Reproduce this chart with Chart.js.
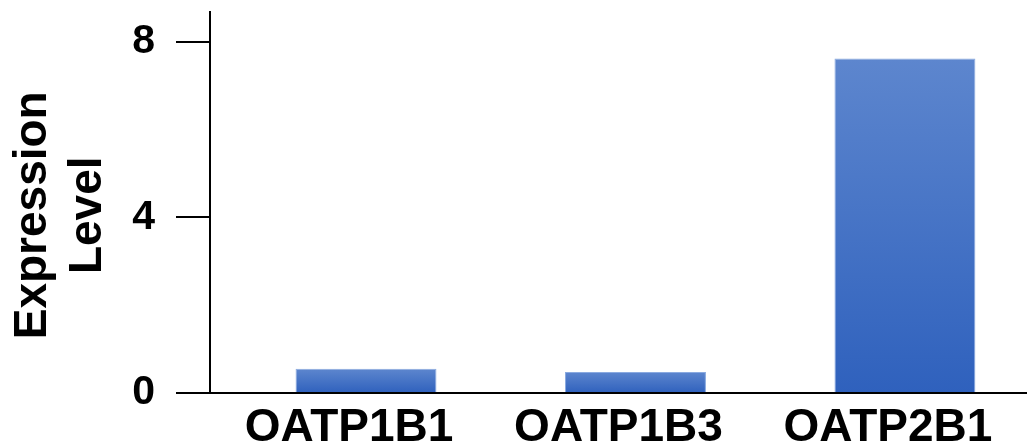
<!DOCTYPE html>
<html>
<head>
<meta charset="utf-8">
<script src="https://cdn.jsdelivr.net/npm/chart.js@4.4.1/dist/chart.umd.min.js"></script>
<style>
  html, body { margin: 0; padding: 0; background: #fff; overflow: hidden; }
  #wrap { width: 1027px; height: 447px; }
</style>
</head>
<body>
<div id="wrap"><canvas id="chart" width="1027" height="447"></canvas></div>
<script>
// values
const categories = ['OATP1B1', 'OATP1B3', 'OATP2B1'];
const expression = [0.55, 0.48, 7.62];
const yTicks = [0, 4, 8];
// trailing spaces nudge the centred title a little down, like the original
const yTitle = ['Expression  ', 'Level  '];

const FONT = '"Liberation Sans", Arial, sans-serif';

// vertical gradient per bar, lighter at the top
function barGradient(c) {
  const chart = c.chart;
  if (!chart.chartArea || !c.raw) return '#4673c6';
  const y = chart.scales.y;
  const top = y.getPixelForValue(c.raw.y);
  const bottom = y.getPixelForValue(0);
  const g = chart.ctx.createLinearGradient(0, top, 0, bottom);
  g.addColorStop(0, '#5d86ce');
  g.addColorStop(1, '#2f61bd');
  return g;
}

const ctx = document.getElementById('chart').getContext('2d');
const chart = new Chart(ctx, {
  type: 'bar',
  data: {
    datasets: [{
      data: categories.map((c, i) => ({ x: i, y: expression[i] })),
      backgroundColor: barGradient,
      borderColor: '#8aaae0',
      borderWidth: 1,
      borderSkipped: 'bottom',
      categoryPercentage: 1,
      barPercentage: 0.523
    }]
  },
  options: {
    responsive: false,
    animation: false,
    layout: { padding: { top: 12, right: 0, bottom: 0, left: 0 } },
    plugins: {
      legend: { display: false },
      tooltip: { enabled: false }
    },
    scales: {
      x: {
        type: 'linear',
        offset: false,
        min: -0.579,
        max: 2.453,
        afterBuildTicks: s => { s.ticks = categories.map((c, i) => ({ value: i })); },
        afterFit: s => {
          s.height = 54;
          s.paddingLeft = 0;
          s.paddingRight = 0;
        },
        ticks: {
          callback: v => categories[v],
          color: '#000',
          font: { family: FONT, size: 46, weight: 'bold' },
          padding: 0,
          labelOffset: -17,
          maxRotation: 0,
          autoSkip: false
        },
        grid: { display: false, offset: false },
        border: { display: true, color: '#000', width: 2 }
      },
      y: {
        min: 0,
        max: 8.68,
        afterBuildTicks: s => { s.ticks = yTicks.map(v => ({ value: v })); },
        afterFit: s => {
          s.width = 210;
          s.paddingTop = 0;
          s.paddingBottom = 0;
        },
        ticks: {
          color: '#000',
          font: { family: FONT, size: 41, weight: 'bold' },
          padding: 21
        },
        grid: {
          drawOnChartArea: false,
          drawTicks: true,
          tickLength: 34,
          color: '#000',
          lineWidth: 2
        },
        border: { display: true, color: '#000', width: 2 },
        title: {
          display: true,
          text: yTitle,
          color: '#000',
          font: { family: FONT, size: 46, weight: 'bold', lineHeight: 1.2 },
          padding: { top: 6, bottom: 0 }
        }
      }
    }
  }
});
</script>
</body>
</html>
